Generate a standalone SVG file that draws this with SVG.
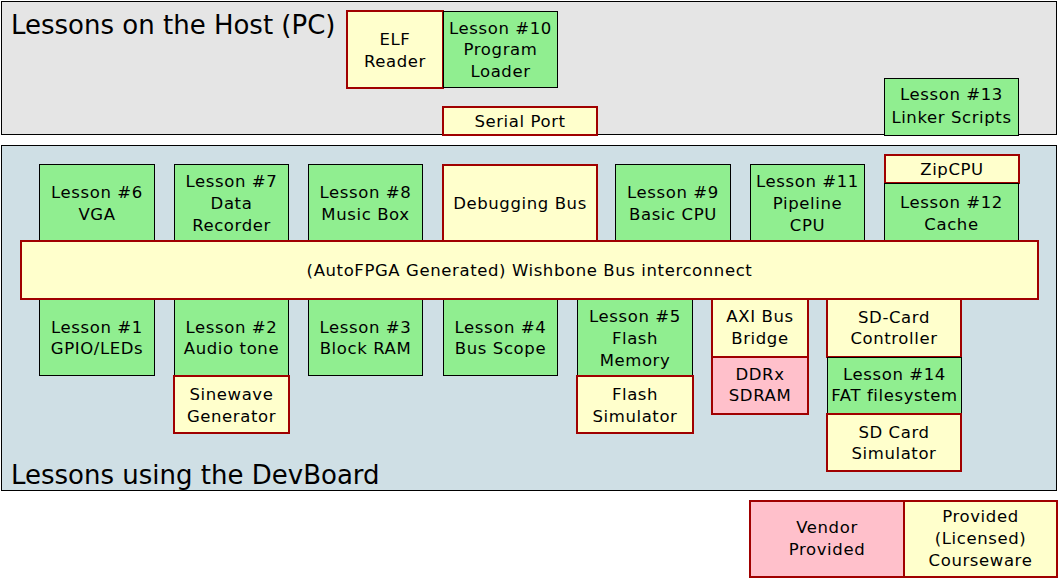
<svg xmlns="http://www.w3.org/2000/svg" width="1059" height="579" viewBox="0 0 1059 579">
<style>
text{font-family:"DejaVu Sans",Verdana,sans-serif;font-size:16.5px;letter-spacing:0.6px;fill:#000;text-anchor:middle}
.title{font-size:26px;letter-spacing:0;text-anchor:start}
.g{fill:#90ee90;stroke:#000;stroke-width:1}
.y{fill:#ffffcc;stroke:#a00000;stroke-width:2}
.p{fill:#ffc0cb;stroke:#a00000;stroke-width:2}
.host{fill:#e5e5e5;stroke:#000;stroke-width:1}
.dev{fill:#cfdfe5;stroke:#000;stroke-width:1}
</style>
<g id="host-panel">
<rect class="host" x="1.5" y="1.5" width="1055" height="133"/>
<text class="title" x="11" y="34">Lessons on the Host (PC)</text>
</g>
<g id="dev-panel">
<rect class="dev" x="1.5" y="145.5" width="1055" height="345"/>
<text class="title" x="11" y="484">Lessons using the DevBoard</text>
</g>
<g id="elf"><rect class="y" x="347" y="11" width="96" height="77"/><text x="395" y="45">ELF</text><text x="395" y="66.5">Reader</text></g>
<g id="l10"><rect class="g" x="443.5" y="11.5" width="114" height="76"/><text x="500.5" y="33.5">Lesson #10</text><text x="500.5" y="55">Program</text><text x="500.5" y="77">Loader</text></g>
<g id="serial"><rect class="y" x="443" y="107" width="154" height="28"/><text x="520" y="127">Serial Port</text></g>
<g id="l13"><rect class="g" x="884.5" y="78.5" width="134" height="57"/><text x="951.5" y="100">Lesson #13</text><text x="951.5" y="123">Linker Scripts</text></g>
<g id="l6"><rect class="g" x="39.5" y="164.5" width="115" height="78"/><text x="97" y="197.5">Lesson #6</text><text x="97" y="219.5">VGA</text></g>
<g id="l7"><rect class="g" x="174.5" y="164.5" width="114" height="78"/><text x="231.5" y="186.5">Lesson #7</text><text x="231.5" y="208.5">Data</text><text x="231.5" y="230.5">Recorder</text></g>
<g id="l8"><rect class="g" x="308.5" y="164.5" width="114" height="78"/><text x="365.5" y="197.5">Lesson #8</text><text x="365.5" y="219.5">Music Box</text></g>
<g id="debug"><rect class="y" x="443" y="165" width="154" height="77"/><text x="520" y="208.5">Debugging Bus</text></g>
<g id="l9"><rect class="g" x="615.5" y="164.5" width="115" height="78"/><text x="673" y="197.5">Lesson #9</text><text x="673" y="219.5">Basic CPU</text></g>
<g id="l11"><rect class="g" x="750.5" y="164.5" width="114" height="78"/><text x="807.5" y="186.5">Lesson #11</text><text x="807.5" y="208.5">Pipeline</text><text x="807.5" y="230.5">CPU</text></g>
<g id="zipcpu"><rect class="y" x="885" y="155" width="134" height="28"/><text x="952" y="175">ZipCPU</text></g>
<g id="l12"><rect class="g" x="884.5" y="183.5" width="134" height="59"/><text x="951.5" y="208">Lesson #12</text><text x="951.5" y="230">Cache</text></g>
<g id="l1"><rect class="g" x="39.5" y="299.5" width="115" height="76"/><text x="97" y="333">Lesson #1</text><text x="97" y="354">GPIO/LEDs</text></g>
<g id="l2"><rect class="g" x="174.5" y="299.5" width="114" height="76"/><text x="231.5" y="333">Lesson #2</text><text x="231.5" y="354">Audio tone</text></g>
<g id="sine"><rect class="y" x="174" y="376" width="115" height="57"/><text x="231.5" y="400">Sinewave</text><text x="231.5" y="422">Generator</text></g>
<g id="l3"><rect class="g" x="308.5" y="299.5" width="114" height="76"/><text x="365.5" y="333">Lesson #3</text><text x="365.5" y="354">Block RAM</text></g>
<g id="l4"><rect class="g" x="443.5" y="299.5" width="114" height="76"/><text x="500.5" y="333">Lesson #4</text><text x="500.5" y="354">Bus Scope</text></g>
<g id="l5"><rect class="g" x="577.5" y="299.5" width="115" height="76"/><text x="635" y="322">Lesson #5</text><text x="635" y="344">Flash</text><text x="635" y="366">Memory</text></g>
<g id="flashsim"><rect class="y" x="577" y="376" width="116" height="57"/><text x="635" y="400">Flash</text><text x="635" y="422">Simulator</text></g>
<g id="axi"><rect class="y" x="712" y="299" width="96" height="58"/><text x="760" y="322">AXI Bus</text><text x="760" y="344">Bridge</text></g>
<g id="ddr"><rect class="p" x="712" y="357" width="96" height="57"/><text x="760" y="380">DDRx</text><text x="760" y="401">SDRAM</text></g>
<g id="sdc"><rect class="y" x="827" y="299" width="134" height="58"/><text x="894" y="322.5">SD-Card</text><text x="894" y="344">Controller</text></g>
<g id="l14"><rect class="g" x="827.5" y="357.5" width="134" height="57"/><text x="894.5" y="380">Lesson #14</text><text x="894.5" y="401">FAT filesystem</text></g>
<g id="sdsim"><rect class="y" x="827" y="414" width="134" height="57"/><text x="894" y="437.5">SD Card</text><text x="894" y="459">Simulator</text></g>
<g id="bus"><rect class="y" x="21" y="241" width="1017" height="58"/><text x="529.5" y="276">(AutoFPGA Generated) Wishbone Bus interconnect</text></g>
<g id="legend-vendor"><rect class="p" x="750" y="501" width="154" height="76"/><text x="827" y="533">Vendor</text><text x="827" y="555">Provided</text></g>
<g id="legend-provided"><rect class="y" x="904" y="501" width="153" height="76"/><text x="980.5" y="522">Provided</text><text x="980.5" y="544">(Licensed)</text><text x="980.5" y="566">Courseware</text></g>
<g id="connectors"></g>
</svg>
